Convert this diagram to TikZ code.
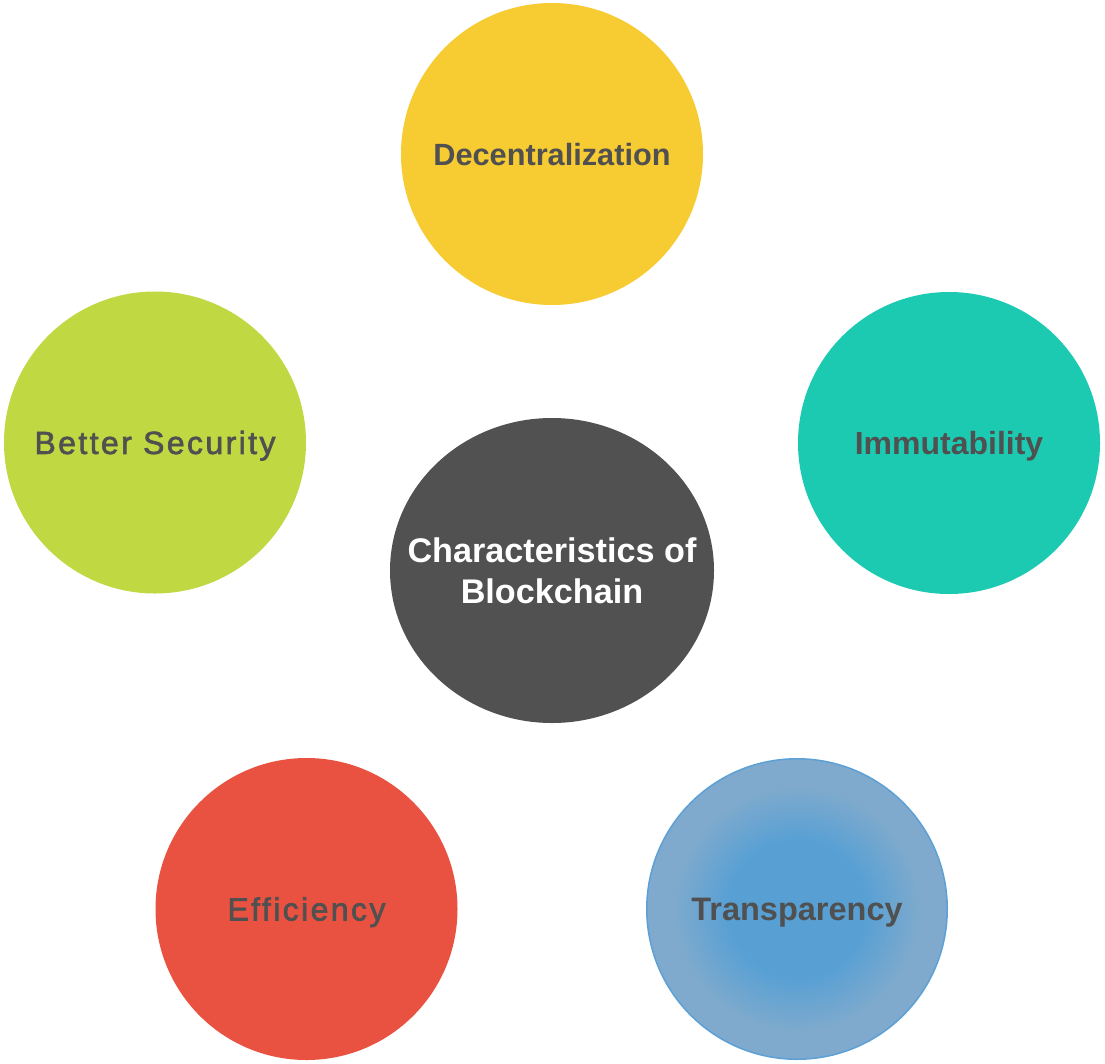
\documentclass[tikz,border=0pt]{standalone}
\usepackage{fontspec}
\setmainfont{Liberation Sans}
\newfontfamily\spacedfont[LetterSpace=7.5,FakeBold=2]{Liberation Sans}
\usetikzlibrary{shapes.geometric}
\definecolor{cyellow}{RGB}{247,203,50}
\definecolor{cgreen}{RGB}{192,216,66}
\definecolor{cteal}{RGB}{28,202,178}
\definecolor{cred}{RGB}{233,81,64}
\definecolor{cgray}{RGB}{81,81,81}
\definecolor{ctext}{RGB}{80,80,80}
\definecolor{tin}{RGB}{88,160,212}
\definecolor{tout}{RGB}{127,170,205}
\definecolor{tborder}{RGB}{92,160,214}
\pgfdeclareradialshading{transp}{\pgfpoint{0bp}{0bp}}{color(0bp)=(tin); color(11.5bp)=(tin); color(20.5bp)=(tout); color(25bp)=(tout); color(50bp)=(tout)}
\tikzset{
  bubble/.style={circle, minimum size=302pt, inner sep=0pt, text depth=0pt, text=ctext},
  boldlab/.style={font=\bfseries\fontsize{#1}{#1}\selectfont},
  spacedlab/.style={font=\spacedfont\fontsize{#1}{#1}\selectfont},
}
\begin{document}
\begin{tikzpicture}[x=1pt,y=-1pt]
\useasboundingbox (0,0) rectangle (1105,1063);
\node (dec) [bubble, fill=cyellow, boldlab=30.7, text height=22pt] at (552,154) {Decentralization};
\node (sec) [bubble, fill=cgreen, spacedlab=32, text height=22.9pt] at (155,442.5) {Better Security};
\node (imm) [bubble, fill=cteal, boldlab=32, text height=22.9pt] at (949,443) {Immutability};
\node (eff) [bubble, fill=cred, spacedlab=32, text height=22.9pt] at (306.5,909) {Efficiency};
\node (tra) [bubble, shading=transp, draw=tborder, line width=1.5pt, minimum size=300.5pt, boldlab=32.5, text height=23.3pt] at (797,909) {Transparency};
\node (core) [ellipse, fill=cgray, minimum width=324pt, minimum height=305pt, inner sep=0pt] at (552,570.5) {};
\node (coretext) [align=center, text=white, inner sep=0pt, font=\bfseries\fontsize{34.2}{41}\selectfont, text height=65.5pt, text depth=0pt] at (core.center) {Characteristics of\\Blockchain};
\end{tikzpicture}
\end{document}
